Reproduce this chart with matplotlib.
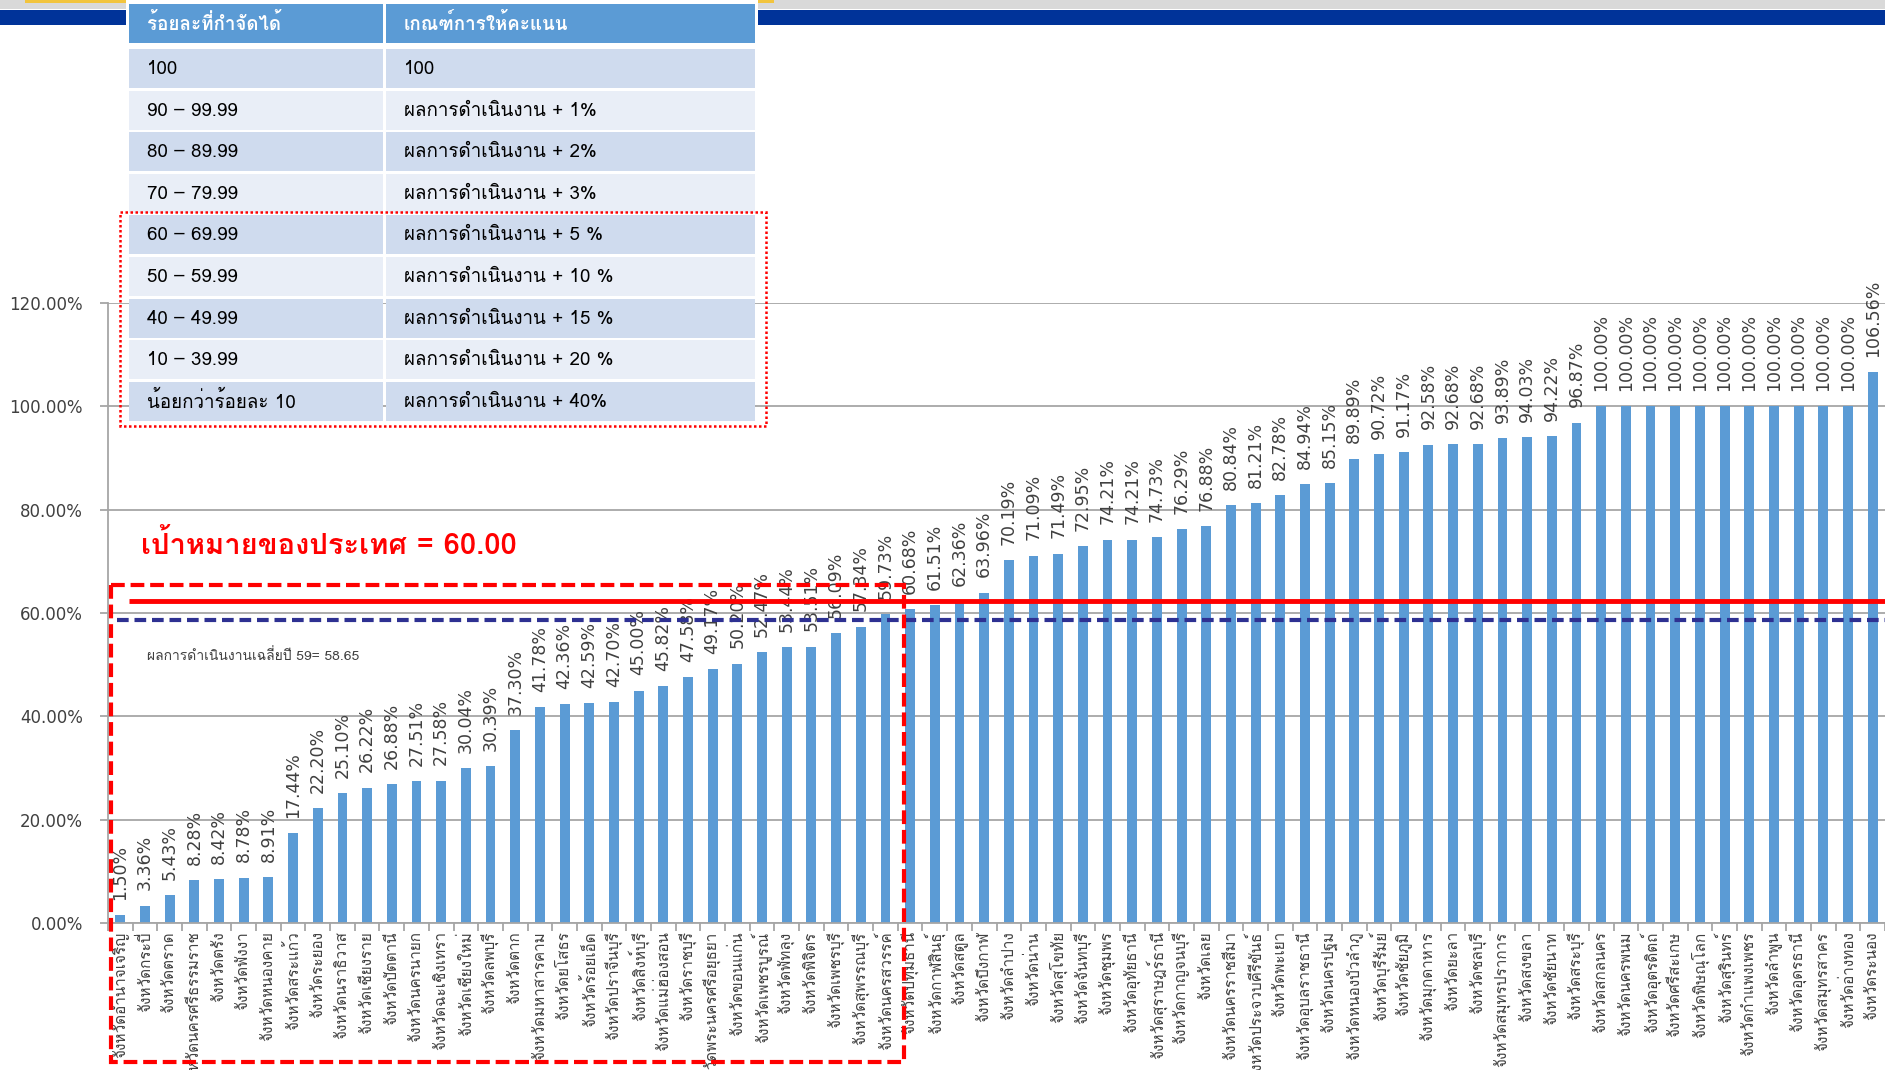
import matplotlib
matplotlib.use("Agg")
import matplotlib.pyplot as plt
from matplotlib import font_manager
from matplotlib.ft2font import FT2Font
from matplotlib.patches import Rectangle
import numpy as np

# ---- data -------------------------------------------------------------
provinces = [
    "จังหวัดอำนาจเจริญ", "จังหวัดกระบี่", "จังหวัดตราด", "จังหวัดนครศรีธรรมราช",
    "จังหวัดตรัง", "จังหวัดพังงา", "จังหวัดหนองคาย", "จังหวัดสระแก้ว",
    "จังหวัดระยอง", "จังหวัดนราธิวาส", "จังหวัดเชียงราย", "จังหวัดปัตตานี",
    "จังหวัดนครนายก", "จังหวัดฉะเชิงเทรา", "จังหวัดเชียงใหม่", "จังหวัดลพบุรี",
    "จังหวัดตาก", "จังหวัดมหาสารคาม", "จังหวัดยโสธร", "จังหวัดร้อยเอ็ด",
    "จังหวัดปราจีนบุรี", "จังหวัดสิงห์บุรี", "จังหวัดแม่ฮ่องสอน", "จังหวัดราชบุรี",
    "จังหวัดพระนครศรีอยุธยา", "จังหวัดขอนแก่น", "จังหวัดเพชรบูรณ์", "จังหวัดพัทลุง",
    "จังหวัดพิจิตร", "จังหวัดเพชรบุรี", "จังหวัดสุพรรณบุรี", "จังหวัดนครสวรรค์",
    "จังหวัดปทุมธานี", "จังหวัดกาฬสินธุ์", "จังหวัดสตูล", "จังหวัดบึงกาฬ",
    "จังหวัดลำปาง", "จังหวัดน่าน", "จังหวัดสุโขทัย", "จังหวัดจันทบุรี",
    "จังหวัดชุมพร", "จังหวัดอุทัยธานี", "จังหวัดสุราษฎร์ธานี", "จังหวัดกาญจนบุรี",
    "จังหวัดเลย", "จังหวัดนครราชสีมา", "จังหวัดประจวบคีรีขันธ์", "จังหวัดพะเยา",
    "จังหวัดอุบลราชธานี", "จังหวัดนครปฐม", "จังหวัดหนองบัวลำภู", "จังหวัดบุรีรัมย์",
    "จังหวัดชัยภูมิ", "จังหวัดมุกดาหาร", "จังหวัดยะลา", "จังหวัดชลบุรี",
    "จังหวัดสมุทรปราการ", "จังหวัดสงขลา", "จังหวัดชัยนาท", "จังหวัดสระบุรี",
    "จังหวัดสกลนคร", "จังหวัดนครพนม", "จังหวัดอุตรดิตถ์", "จังหวัดศรีสะเกษ",
    "จังหวัดพิษณุโลก", "จังหวัดสุรินทร์", "จังหวัดกำแพงเพชร", "จังหวัดลำพูน",
    "จังหวัดอุดรธานี", "จังหวัดสมุทรสาคร", "จังหวัดอ่างทอง", "จังหวัดระนอง",
]
removal_pct = [
    1.50, 3.36, 5.43, 8.28, 8.42, 8.78, 8.91, 17.44,
    22.20, 25.10, 26.22, 26.88, 27.51, 27.58, 30.04, 30.39,
    37.30, 41.78, 42.36, 42.59, 42.70, 45.00, 45.82, 47.58,
    49.17, 50.20, 52.47, 53.44, 53.51, 56.09, 57.34, 59.73,
    60.68, 61.51, 62.36, 63.96, 70.19, 71.09, 71.49, 72.95,
    74.21, 74.21, 74.73, 76.29, 76.88, 80.84, 81.21, 82.78,
    84.94, 85.15, 89.89, 90.72, 91.17, 92.58, 92.68, 92.68,
    93.89, 94.03, 94.22, 96.87, 100.00, 100.00, 100.00, 100.00,
    100.00, 100.00, 100.00, 100.00, 100.00, 100.00, 100.00, 106.56,
]
avg_59 = 58.65
target = 60.00

table_header = ["ร้อยละที่กำจัดได้", "เกณฑ์การให้คะแนน"]
range_labels = ["100", "90 – 99.99", "80 – 89.99", "70 – 79.99", "60 – 69.99",
                "50 – 59.99", "40 – 49.99", "10 – 39.99", "น้อยกว่าร้อยละ 10"]
score_labels = ["100", "ผลการดำเนินงาน + 1%", "ผลการดำเนินงาน + 2%",
                "ผลการดำเนินงาน + 3%", "ผลการดำเนินงาน + 5 %",
                "ผลการดำเนินงาน + 10 %", "ผลการดำเนินงาน + 15 %",
                "ผลการดำเนินงาน + 20 %", "ผลการดำเนินงาน + 40%"]


def find_thai_font():
    # pick any installed family that actually has Thai glyphs
    for f in font_manager.fontManager.ttflist:
        try:
            if 0x0E01 in FT2Font(f.fname).get_charmap():
                return f.name
        except Exception:
            continue
    return None


thai = find_thai_font()
plt.rcParams['font.family'] = ([thai] if thai else []) + ['DejaVu Sans']

W, H = 1885, 1070
fig = plt.figure(figsize=(W / 100, H / 100), dpi=100)
fig.patch.set_facecolor('white')

# ---- main bar chart ---------------------------------------------------
ax = fig.add_axes([108 / W, 147 / H, (W - 108) / W, 620 / H])
x = np.arange(len(provinces))
ax.bar(x, removal_pct, width=0.4, color='#5b9bd5', zorder=2)
ax.set_xlim(-0.5, len(provinces) - 0.5)
ax.set_ylim(0, 120)

yt = np.arange(0, 121, 20)
ax.set_yticks(yt)
ax.set_yticklabels([f"{v:.2f}%" for v in yt], family='DejaVu Sans')
ax.yaxis.grid(True, color='#a6a6a6', lw=1.3, zorder=0)
ax.set_axisbelow(True)
for s in ['top', 'right']:
    ax.spines[s].set_visible(False)
for s in ['left', 'bottom']:
    ax.spines[s].set_color('#a6a6a6')
    ax.spines[s].set_linewidth(1.3)

ax.set_xticks(x)
ax.set_xticklabels(provinces, rotation=90, fontsize=11, color='#404040')
ax.set_xticks(np.arange(len(provinces) + 1) - 0.5, minor=True)
ax.tick_params(axis='x', which='major', length=0, pad=6)
ax.tick_params(axis='x', which='minor', length=6, color='#a6a6a6', width=1.3)
ax.tick_params(axis='y', length=6, color='#a6a6a6', width=1.3,
               labelsize=12, labelcolor='#404040', pad=12)

for i, v in enumerate(removal_pct):
    ax.annotate(f"{v:.2f}%", (i, v), xytext=(0, 11), textcoords='offset points',
                rotation=90, ha='center', va='bottom', fontsize=12.5,
                color='#404040', family='DejaVu Sans')

# average line of year 59
ax.plot([-0.15, len(provinces) - 0.5], [avg_59, avg_59], color='#2e3192',
        lw=3, ls=(0, (2.8, 1.4)), zorder=4, clip_on=False)

# ---- overlay in pixel coordinates for the slide decorations -----------
ov = fig.add_axes([0, 0, 1, 1], zorder=5)
ov.set_xlim(0, W)
ov.set_ylim(H, 0)
ov.axis('off')
ov.patch.set_alpha(0)

# slide header band
ov.add_patch(Rectangle((0, 0), W, 9, color='#d9d9d9', lw=0))
ov.add_patch(Rectangle((25, 0), 102, 3, color='#f2c43d', lw=0))
ov.add_patch(Rectangle((758, 0), 16, 3, color='#f2c43d', lw=0))
ov.add_patch(Rectangle((0, 10), W, 15, color='#003399', lw=0))
ov.add_patch(Rectangle((126, 0), 632, 46, color='white', lw=0))

# national target line + label
ov.plot([129, W], [601, 601], color='#ff0000', lw=3.5, solid_capstyle='butt')
ov.text(141, 545, f"เป้าหมายของประเทศ = {target:.2f}", color='#ff0000',
        fontsize=21, fontweight='bold', va='center', ha='left')
ov.text(147, 656, f"ผลการดำเนินงานเฉลี่ยปี 59= {avg_59:.2f}", color='#404040',
        fontsize=10, va='center', ha='left')

# red dashed box around provinces below target
ov.add_patch(Rectangle((111, 585), 793, 477, fill=False, ec='#ff0000', lw=3,
                       ls=(0, (3.3, 1.4))))

# scoring table
c1x, c1w = 129, 254
c2x, c2w = 386, 369
ov.add_patch(Rectangle((c1x, 4), c1w, 39, color='#5b9bd5', lw=0))
ov.add_patch(Rectangle((c2x, 4), c2w, 39, color='#5b9bd5', lw=0))
ov.text(c1x + 18, 23, table_header[0], color='white', fontsize=13.5,
        fontweight='bold', va='center')
ov.text(c2x + 18, 23, table_header[1], color='white', fontsize=13.5,
        fontweight='bold', va='center')
for i, (r, sc) in enumerate(zip(range_labels, score_labels)):
    top = 49 + 41.6 * i
    fc = '#cfdbee' if i % 2 == 0 else '#e9eef7'
    ov.add_patch(Rectangle((c1x, top), c1w, 39, color=fc, lw=0))
    ov.add_patch(Rectangle((c2x, top), c2w, 39, color=fc, lw=0))
    ov.text(c1x + 18, top + 20, r, color='black', fontsize=13.5, va='center')
    ov.text(c2x + 18, top + 20, sc, color='black', fontsize=13.5, va='center')

# red dotted box around the lower bands
ov.add_patch(Rectangle((120, 212), 646, 214, fill=False, ec='#ff0000', lw=1.8,
                       ls=(0, (1, 1))))

fig.savefig("out.png", dpi=100)
